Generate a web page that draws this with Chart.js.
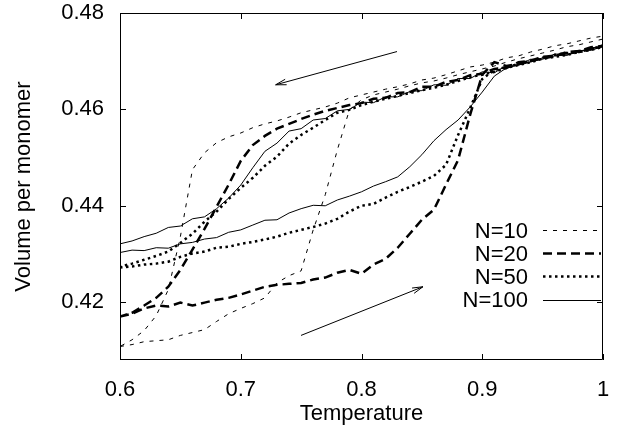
<!DOCTYPE html>
<html>
<head>
<meta charset="utf-8">
<script src="https://cdn.jsdelivr.net/npm/chart.js@4/dist/chart.umd.min.js"></script>
<style>
  html, body { margin: 0; padding: 0; background: #fff; }
  canvas { display: block; }
</style>
</head>
<body>
<canvas id="hysteresisChart" width="619" height="430"></canvas>
<script>
// Temperature grid shared by every branch
const temps = [0.60, 0.61, 0.62, 0.63, 0.64, 0.65, 0.66, 0.67, 0.68, 0.69,
               0.70, 0.71, 0.72, 0.73, 0.74, 0.75, 0.76, 0.77, 0.78, 0.79,
               0.80, 0.81, 0.82, 0.83, 0.84, 0.85, 0.86, 0.87, 0.88, 0.89,
               0.90, 0.91, 0.92, 0.93, 0.94, 0.95, 0.96, 0.97, 0.98, 0.99, 1.00];

const seriesNames = ['N=10', 'N=20', 'N=50', 'N=100'];

// Heating branches (lower, read left to right)
const n10Heat = [0.4108, 0.4112, 0.4118, 0.4120, 0.4122, 0.4131, 0.4137, 0.4143, 0.4160, 0.4176,
                 0.4187, 0.4197, 0.4209, 0.4240, 0.4255, 0.4265, 0.4350, 0.4423, 0.4516, 0.4599,
                 0.4620, 0.4630, 0.4636, 0.4642, 0.4649, 0.4655, 0.4659, 0.4665, 0.4672, 0.4678,
                 0.4684, 0.4690, 0.4698, 0.4705, 0.4711, 0.4717, 0.4723, 0.4730, 0.4734, 0.4740, 0.4746];
const n20Heat = [0.4170, 0.4176, 0.4187, 0.4193, 0.4191, 0.4199, 0.4193, 0.4199, 0.4205, 0.4209,
                 0.4216, 0.4224, 0.4232, 0.4236, 0.4238, 0.4240, 0.4247, 0.4251, 0.4261, 0.4267,
                 0.4259, 0.4278, 0.4290, 0.4313, 0.4342, 0.4371, 0.4392, 0.4444, 0.4495, 0.4589,
                 0.4672, 0.4698, 0.4690, 0.4694, 0.4701, 0.4705, 0.4711, 0.4717, 0.4721, 0.4725, 0.4732];
const n50Heat = [0.4272, 0.4274, 0.4278, 0.4280, 0.4284, 0.4294, 0.4301, 0.4305, 0.4313, 0.4315,
                 0.4321, 0.4325, 0.4330, 0.4336, 0.4344, 0.4350, 0.4356, 0.4363, 0.4373, 0.4388,
                 0.4400, 0.4404, 0.4417, 0.4429, 0.4439, 0.4450, 0.4462, 0.4485, 0.4547, 0.4603,
                 0.4663, 0.4682, 0.4688, 0.4694, 0.4701, 0.4707, 0.4713, 0.4717, 0.4719, 0.4725, 0.4732];
const n100Heat = [0.4303, 0.4308, 0.4307, 0.4313, 0.4312, 0.4321, 0.4324, 0.4331, 0.4334, 0.4345,
                  0.4350, 0.4360, 0.4370, 0.4371, 0.4385, 0.4394, 0.4401, 0.4400, 0.4412, 0.4420,
                  0.4429, 0.4441, 0.4450, 0.4460, 0.4481, 0.4506, 0.4535, 0.4558, 0.4578, 0.4605,
                  0.4636, 0.4669, 0.4686, 0.4692, 0.4698, 0.4707, 0.4711, 0.4713, 0.4719, 0.4727, 0.4732];

// Cooling branches (upper, stored left to right, traversed right to left)
const n10Cool = [0.4108, 0.4122, 0.4141, 0.4172, 0.4226, 0.4336, 0.4475, 0.4510, 0.4531, 0.4543,
                 0.4551, 0.4562, 0.4570, 0.4576, 0.4584, 0.4593, 0.4599, 0.4605, 0.4613, 0.4624,
                 0.4630, 0.4636, 0.4642, 0.4647, 0.4653, 0.4661, 0.4665, 0.4672, 0.4680, 0.4688,
                 0.4692, 0.4698, 0.4707, 0.4711, 0.4719, 0.4725, 0.4732, 0.4736, 0.4742, 0.4748, 0.4752];
const n20Cool = [0.4170, 0.4178, 0.4193, 0.4209, 0.4232, 0.4267, 0.4309, 0.4352, 0.4398, 0.4444,
                 0.4493, 0.4526, 0.4545, 0.4560, 0.4570, 0.4580, 0.4589, 0.4597, 0.4603, 0.4609,
                 0.4613, 0.4622, 0.4624, 0.4634, 0.4636, 0.4647, 0.4647, 0.4657, 0.4661, 0.4671,
                 0.4674, 0.4684, 0.4686, 0.4698, 0.4701, 0.4709, 0.4711, 0.4719, 0.4721, 0.4729, 0.4732];
const n50Cool = [0.4274, 0.4280, 0.4288, 0.4296, 0.4305, 0.4323, 0.4342, 0.4367, 0.4388, 0.4414,
                 0.4437, 0.4458, 0.4483, 0.4502, 0.4529, 0.4547, 0.4562, 0.4578, 0.4593, 0.4599,
                 0.4609, 0.4616, 0.4622, 0.4628, 0.4634, 0.4640, 0.4645, 0.4651, 0.4659, 0.4667,
                 0.4672, 0.4678, 0.4686, 0.4692, 0.4698, 0.4705, 0.4709, 0.4713, 0.4719, 0.4723, 0.4730];
const n100Cool = [0.4321, 0.4327, 0.4336, 0.4343, 0.4355, 0.4358, 0.4373, 0.4377, 0.4394, 0.4416,
                  0.4443, 0.4479, 0.4513, 0.4530, 0.4555, 0.4560, 0.4578, 0.4581, 0.4597, 0.4600,
                  0.4615, 0.4614, 0.4626, 0.4626, 0.4637, 0.4639, 0.4651, 0.4650, 0.4664, 0.4664,
                  0.4678, 0.4676, 0.4691, 0.4692, 0.4704, 0.4704, 0.4715, 0.4712, 0.4722, 0.4723, 0.4730];

// Axis ticks
const xTicks = [0.6, 0.7, 0.8, 0.9, 1.0];
const xTickLabels = ['0.6', '0.7', '0.8', '0.9', '1'];
const yTicks = [0.42, 0.44, 0.46, 0.48];
const yTickLabels = ['0.42', '0.44', '0.46', '0.48'];
const xTitle = 'Temperature';
const yTitle = 'Volume per monomer';

// Arrows showing the direction of the sweeps (data units)
const arrowTails = [[0.8294, 0.4720], [0.7499, 0.4131]];
const arrowTips = [[0.7289, 0.4651], [0.8509, 0.4232]];

const FONT = 'Liberation Sans, Arial, Helvetica, sans-serif';

// heating path first, then the cooling path back to T=0.6
function loopPoints(heat, cool) {
    const pts = temps.map((t, i) => ({ x: t, y: heat[i] }));
    for (let i = temps.length - 1; i >= 0; i--) {
        pts.push({ x: temps[i], y: cool[i] });
    }
    return pts;
}

// gnuplot style frame with inward ticks on all four sides
const frameTicks = {
    id: 'frameTicks',
    afterDatasetsDraw(chart) {
        const { ctx, chartArea: { left, right, top, bottom }, scales: { x, y } } = chart;
        ctx.save();
        ctx.strokeStyle = '#000';
        ctx.lineWidth = 1;
        ctx.beginPath();
        ctx.rect(Math.round(left) + 0.5, Math.round(top) + 0.5,
                 Math.round(right - left) - 1, Math.round(bottom - top) - 1);
        xTicks.forEach(v => {
            const px = Math.round(x.getPixelForValue(v)) + 0.5;
            ctx.moveTo(px, bottom); ctx.lineTo(px, bottom - 6);
            ctx.moveTo(px, top); ctx.lineTo(px, top + 6);
        });
        yTicks.forEach(v => {
            const py = Math.round(y.getPixelForValue(v)) + 0.5;
            ctx.moveTo(left, py); ctx.lineTo(left + 6, py);
            ctx.moveTo(right, py); ctx.lineTo(right - 6, py);
        });
        ctx.stroke();

        // arrows
        arrowTails.forEach((tail, i) => {
            const x0 = x.getPixelForValue(tail[0]), y0 = y.getPixelForValue(tail[1]);
            const x1 = x.getPixelForValue(arrowTips[i][0]), y1 = y.getPixelForValue(arrowTips[i][1]);
            const a = Math.atan2(y1 - y0, x1 - x0);
            ctx.beginPath();
            ctx.moveTo(x0, y0); ctx.lineTo(x1, y1);
            ctx.moveTo(x1 - 11 * Math.cos(a - 0.26), y1 - 11 * Math.sin(a - 0.26));
            ctx.lineTo(x1, y1);
            ctx.lineTo(x1 - 11 * Math.cos(a + 0.26), y1 - 11 * Math.sin(a + 0.26));
            ctx.stroke();
        });
        ctx.restore();
    }
};

// x tick labels and axis title, drawn last
const xAxisText = {
    id: 'xAxisText',
    afterDraw(chart) {
        const { ctx, chartArea: { left, right, bottom }, scales: { x } } = chart;
        ctx.save();
        ctx.font = '22px ' + FONT;
        ctx.fillStyle = '#000';
        ctx.textAlign = 'center';
        ctx.textBaseline = 'alphabetic';
        xTicks.forEach((v, i) => {
            ctx.fillText(xTickLabels[i], x.getPixelForValue(v), bottom + 36);
        });
        ctx.fillText(xTitle, (left + right) / 2, bottom + 60);
        ctx.restore();
    }
};

// key inside the plot: label, then a sample of the line style
const insideKey = {
    id: 'insideKey',
    afterDraw(chart) {
        const { ctx, chartArea: { right, top } } = chart;
        ctx.save();
        ctx.font = '22px ' + FONT;
        ctx.fillStyle = '#000';
        ctx.textAlign = 'right';
        ctx.textBaseline = 'alphabetic';
        chart.data.datasets.forEach((ds, i) => {
            const rowY = top + 217 + i * 23.2;
            ctx.fillText(ds.label, right - 75, rowY + 7.5);
            ctx.beginPath();
            ctx.lineWidth = ds.borderWidth;
            ctx.setLineDash(ds.borderDash || []);
            ctx.moveTo(right - 60, Math.round(rowY) + 0.5);
            ctx.lineTo(right - 2, Math.round(rowY) + 0.5);
            ctx.stroke();
        });
        ctx.restore();
    }
};

const tickFont = { family: FONT, size: 22 };

const chart = new Chart(document.getElementById('hysteresisChart').getContext('2d'), {
    type: 'line',
    data: {
        datasets: [
            {
                label: seriesNames[0],
                data: loopPoints(n10Heat, n10Cool),
                borderColor: '#000',
                borderWidth: 1,
                borderDash: [4, 6]
            },
            {
                label: seriesNames[1],
                data: loopPoints(n20Heat, n20Cool),
                borderColor: '#000',
                borderWidth: 2.5,
                borderDash: [9, 5]
            },
            {
                label: seriesNames[2],
                data: loopPoints(n50Heat, n50Cool),
                borderColor: '#000',
                borderWidth: 2.5,
                borderDash: [2.5, 3.5]
            },
            {
                label: seriesNames[3],
                data: loopPoints(n100Heat, n100Cool),
                borderColor: '#000',
                borderWidth: 1
            }
        ]
    },
    options: {
        responsive: false,
        animation: false,
        events: [],
        elements: {
            point: { radius: 0 },
            line: { tension: 0, fill: false }
        },
        layout: { padding: { top: 13, right: 16, left: 0, bottom: 0 } },
        plugins: {
            legend: { display: false },
            tooltip: { enabled: false }
        },
        scales: {
            x: {
                type: 'linear',
                min: 0.6,
                max: 1.0,
                grid: { display: false, drawTicks: false },
                border: { display: false },
                afterBuildTicks: (s) => { s.ticks = xTicks.map(v => ({ value: v })); },
                afterFit: (s) => { s.height = 70; s.paddingLeft = 0; s.paddingRight = 0; },
                ticks: { display: false },
                title: { display: false }
            },
            y: {
                type: 'linear',
                min: 0.408,
                max: 0.48,
                grid: { display: false, drawTicks: false },
                border: { display: false },
                afterBuildTicks: (s) => { s.ticks = yTicks.map(v => ({ value: v })); },
                afterFit: (s) => { s.width = 120; s.paddingTop = 0; s.paddingBottom = 0; },
                ticks: {
                    color: '#000',
                    font: tickFont,
                    padding: 16,
                    autoSkip: false,
                    callback: (v) => yTickLabels[yTicks.findIndex(t => Math.abs(t - v) < 1e-6)]
                },
                title: {
                    display: true,
                    text: yTitle,
                    color: '#000',
                    font: tickFont,
                    padding: { top: 11, bottom: 0 }
                }
            }
        }
    },
    plugins: [frameTicks, xAxisText, insideKey]
});
</script>
</body>
</html>
